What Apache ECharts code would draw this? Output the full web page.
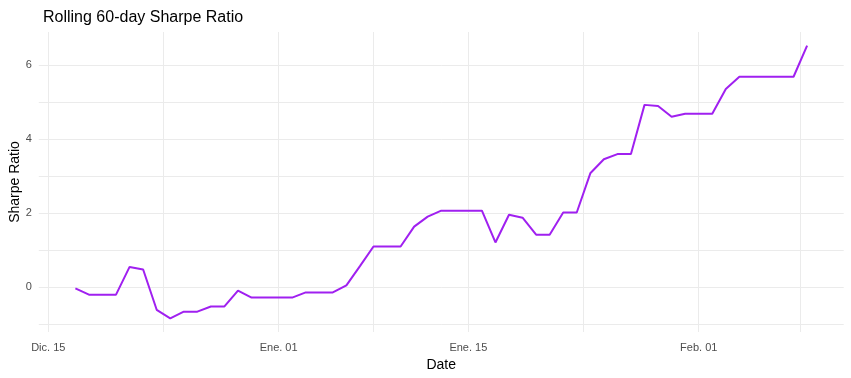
<!DOCTYPE html>
<html>
<head>
<meta charset="utf-8">
<script src="https://cdn.jsdelivr.net/npm/echarts@6/dist/echarts.min.js"></script>
<style>
  html, body { margin: 0; padding: 0; background: #fff; }
  #chart { width: 851px; height: 378px; }
</style>
</head>
<body>
<div id="chart"></div>
<script>
// fechas (dias desde 15-dic) y valores del sharpe rodante
var dayOffsets = [2, 3, 4, 5, 6, 7, 8, 9, 10, 11, 12, 13, 14, 15, 16, 17, 18, 19, 20, 21,
                  22, 23, 24, 25, 26, 27, 28, 29, 30, 31, 32, 33, 34, 35, 36, 37, 38, 39, 40, 41,
                  42, 43, 44, 45, 46, 47, 48, 49, 50, 51, 52, 53, 54, 55, 56];
var sharpe = [-0.04, -0.21, -0.21, -0.21, 0.54, 0.47, -0.62, -0.85, -0.67, -0.67,
              -0.53, -0.53, -0.10, -0.29, -0.29, -0.29, -0.29, -0.15, -0.15, -0.15,
              0.04, 0.56, 1.09, 1.09, 1.09, 1.63, 1.90, 2.06, 2.06, 2.06,
              2.06, 1.20, 1.95, 1.87, 1.41, 1.41, 2.01, 2.01, 3.07, 3.45,
              3.59, 3.59, 4.92, 4.89, 4.60, 4.68, 4.68, 4.68, 5.35, 5.68,
              5.68, 5.68, 5.68, 5.68, 6.52];

var yTicks = [0, 2, 4, 6];
var yGrid = [-1, 0, 1, 2, 3, 4, 5, 6];
var xTickDays = [0, 17, 31, 48];        // Dic. 15, Ene. 01, Ene. 15, Feb. 01
var xGridDays = [0, 8.5, 17, 24, 31, 39.5, 48, 55.5];
var meses = ['Ene.', 'Feb.', 'Mar.', 'Abr.', 'May.', 'Jun.', 'Jul.', 'Ago.', 'Sep.', 'Oct.', 'Nov.', 'Dic.'];

var DAY = 86400000;
var base = new Date(2023, 11, 15, 12).getTime();
function fecha(d) {
    var dt = new Date(base + d * DAY);
    var dd = dt.getDate();
    return meses[dt.getMonth()] + ' ' + (dd < 10 ? '0' + dd : dd);
}

var seriesData = dayOffsets.map(function (d, i) { return [d, sharpe[i]]; });

var font = 'Liberation Sans, Arial, sans-serif';
var myChart = echarts.init(document.getElementById('chart'));

var option = {
    animation: false,
    backgroundColor: '#ffffff',
    title: {
        text: 'Rolling 60-day Sharpe Ratio',
        left: 38,
        top: 5,
        textStyle: { fontFamily: font, fontSize: 16, fontWeight: 'normal', color: '#000' }
    },
    grid: { left: 38.8, right: 7.3, top: 32, bottom: 46, containLabel: false, outerBoundsMode: 'none' },
    xAxis: {
        type: 'value',
        min: -0.7,
        max: 58.7,
        name: 'Date',
        nameLocation: 'middle',
        nameGap: 26,
        nameMoveOverlap: false,
        nameTextStyle: { fontFamily: font, fontSize: 14, color: '#000' },
        axisLine: { show: false },
        axisTick: { show: false, customValues: xGridDays },
        axisLabel: {
            customValues: xTickDays,
            margin: 10,
            fontFamily: font,
            fontSize: 11,
            color: '#4d4d4d',
            formatter: function (v) { return fecha(v); }
        },
        splitLine: { show: true, lineStyle: { color: '#ebebeb', width: 1 } }
    },
    yAxis: {
        type: 'value',
        min: -1.22,
        max: 6.89,
        name: 'Sharpe Ratio',
        nameLocation: 'middle',
        nameGap: 17,
        nameMoveOverlap: false,
        nameTextStyle: { fontFamily: font, fontSize: 14, color: '#000' },
        axisLine: { show: false },
        axisTick: { show: false, customValues: yGrid },
        axisLabel: {
            customValues: yTicks,
            margin: 7,
            fontFamily: font,
            fontSize: 11,
            color: '#4d4d4d'
        },
        splitLine: { show: true, lineStyle: { color: '#ebebeb', width: 1 } }
    },
    series: [{
        type: 'line',
        data: seriesData,
        symbol: 'none',
        lineStyle: { color: '#a020f0', width: 2 }
    }]
};

myChart.setOption(option);
</script>
</body>
</html>
